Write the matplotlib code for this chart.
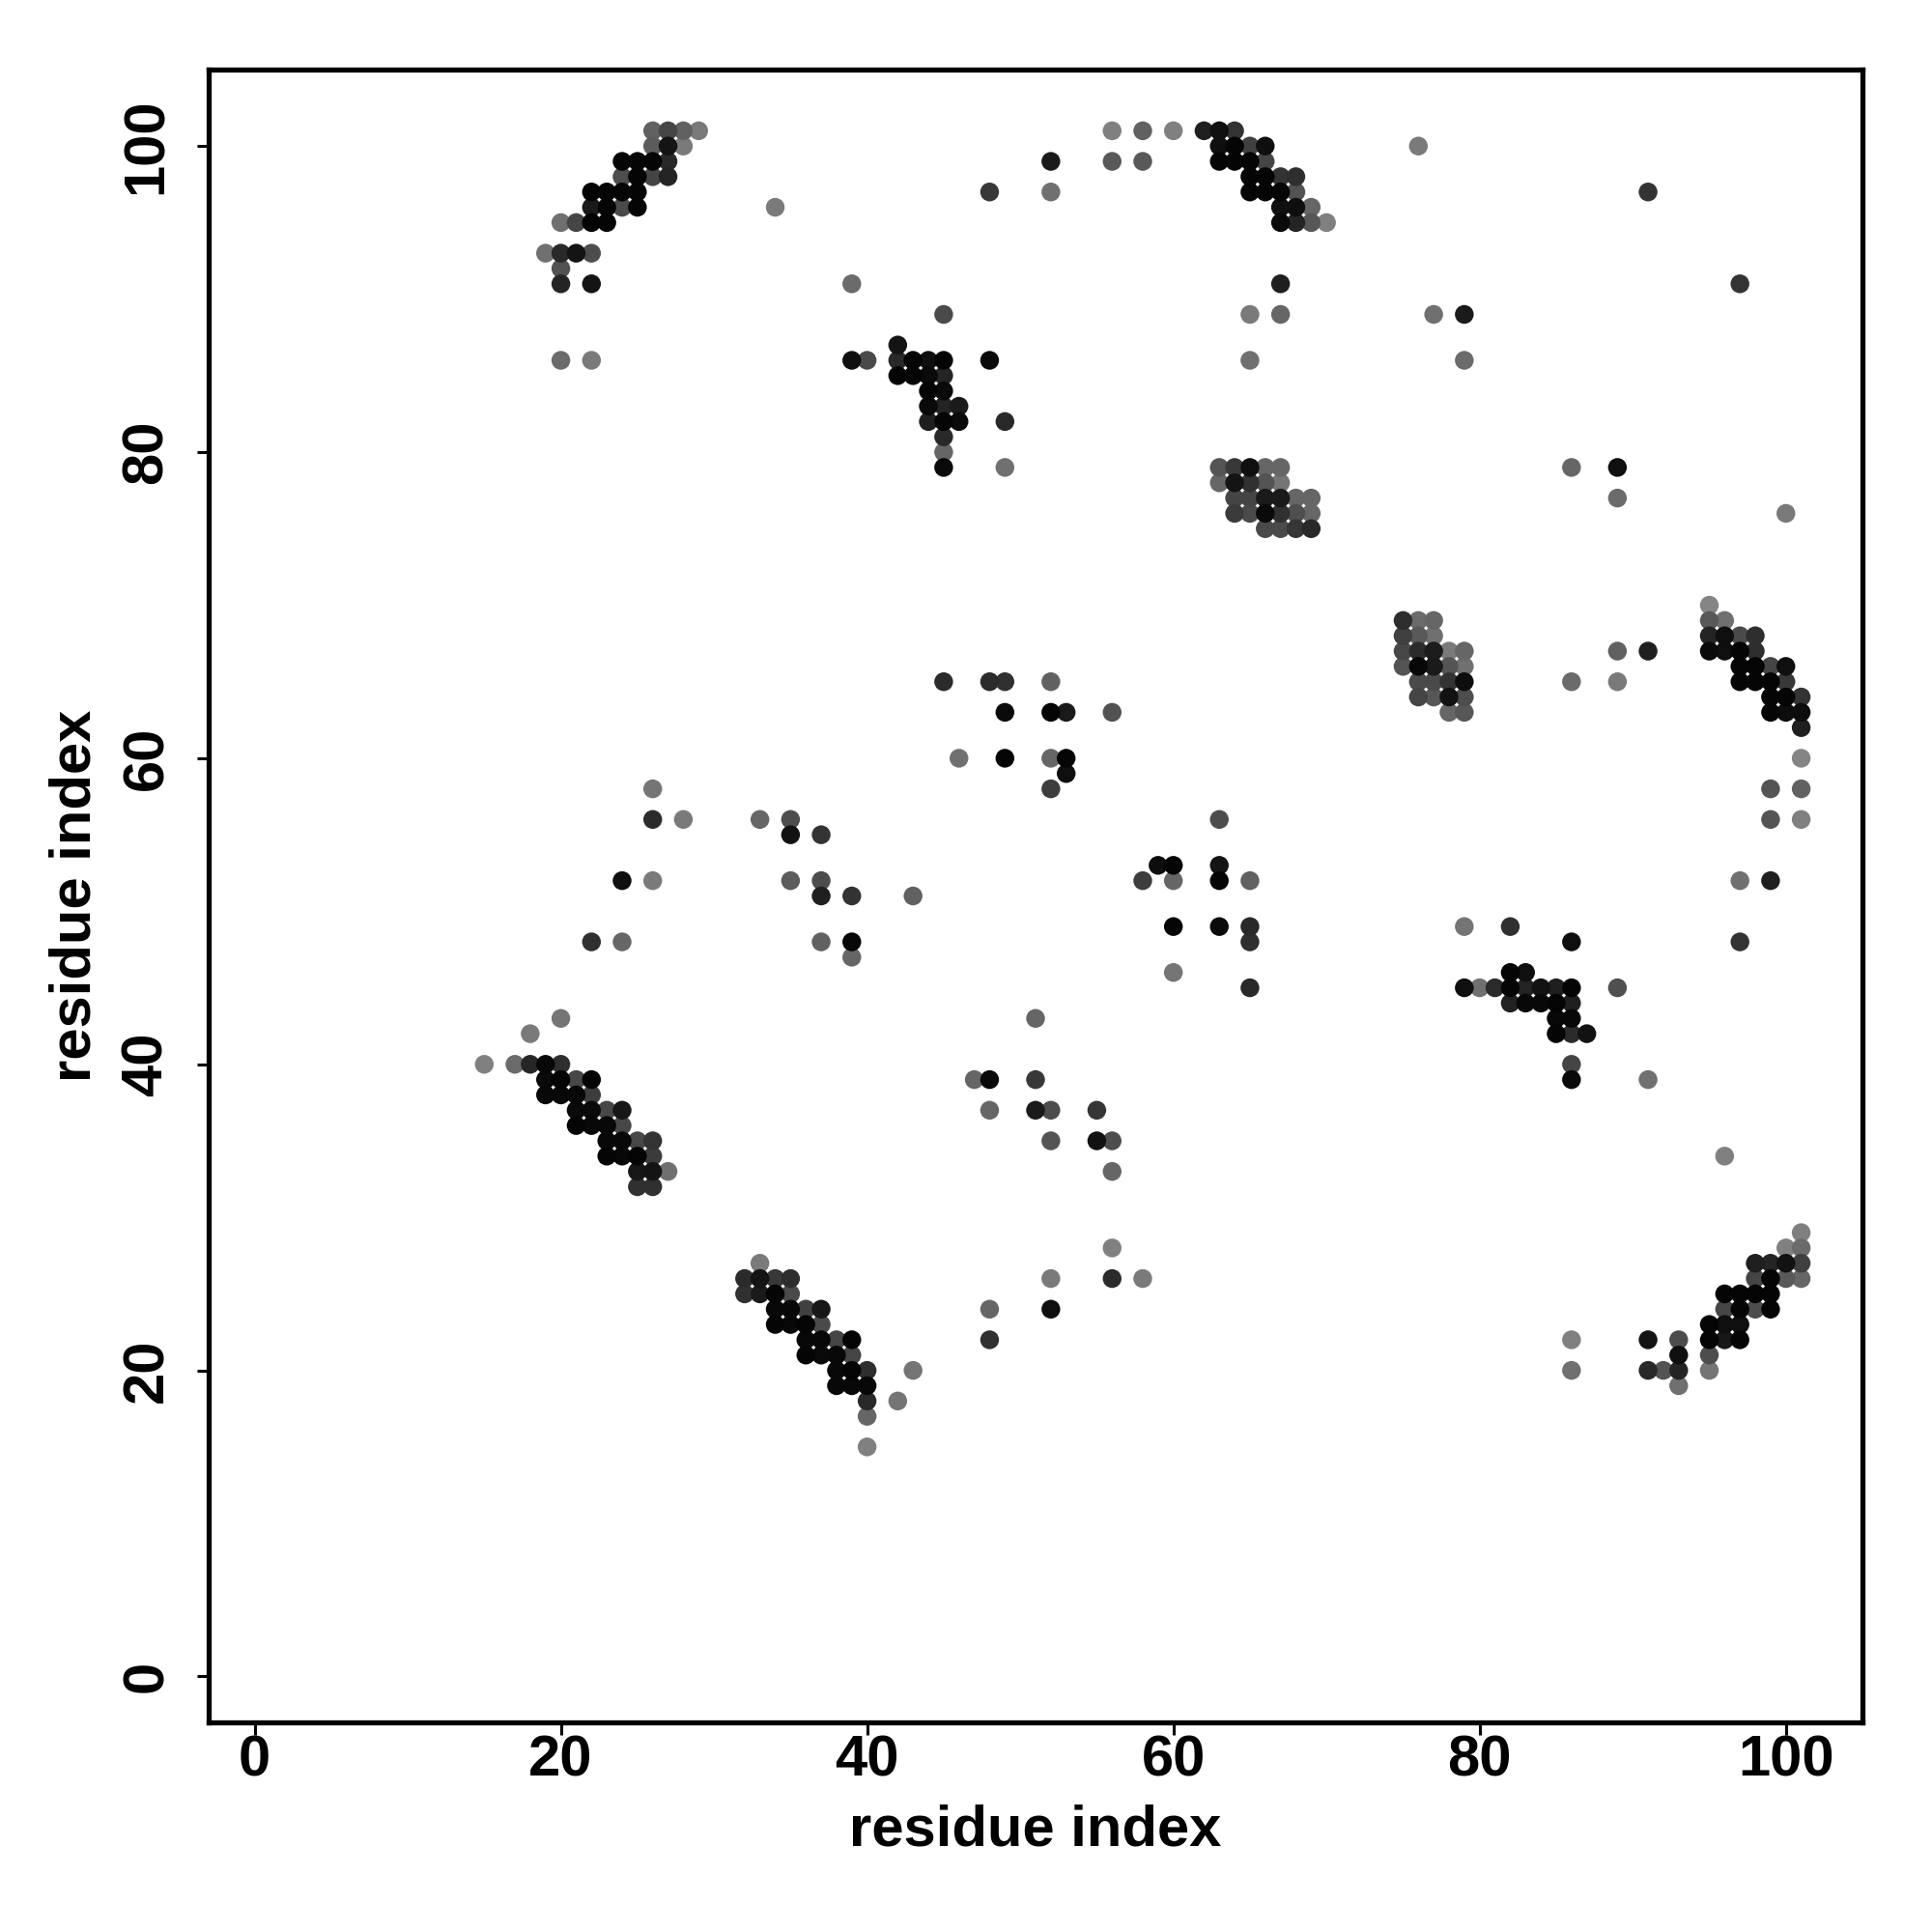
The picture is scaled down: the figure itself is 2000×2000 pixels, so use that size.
import matplotlib
matplotlib.use("Agg")
import matplotlib.pyplot as plt


# contact map: (residue i, residue j, grey level of the dot)
strand_a = [
    (26, 101, .38), (27, 101, .27), (28, 101, .38), (29, 101, .48),
    (26, 100, .36), (27, 100, .08), (28, 100, .48),
    (24, 99, .02), (25, 99, .02), (26, 99, .02), (27, 99, .16),
    (24, 98, .30), (25, 98, .02), (26, 98, .27), (27, 98, .14),
    (22, 97, .02), (23, 97, .02), (24, 97, .02), (25, 97, .02),
    (22, 96, .10), (23, 96, .02), (24, 96, .29), (25, 96, .02),
    (20, 95, .44), (21, 95, .27), (22, 95, .02), (23, 95, .02),
    (19, 93, .44), (20, 93, .16), (21, 93, .08), (22, 93, .30),
    (20, 92, .32), (20, 91, .14), (22, 91, .08),
    (20, 86, .42), (22, 86, .48), (34, 96, .48), (39, 91, .42),
]

strand_b = [
    (45, 89, .29), (42, 87, .08),
    (39, 86, .06), (40, 86, .29), (42, 86, .16), (43, 86, .02), (44, 86, .06),
    (45, 86, .02), (48, 86, .04),
    (42, 85, .02), (43, 85, .02), (44, 85, .04), (45, 85, .14),
    (44, 84, .02), (45, 84, .04),
    (44, 83, .04), (45, 83, .14), (46, 83, .10),
    (44, 82, .12), (45, 82, .02), (46, 82, .04), (49, 82, .16),
    (45, 81, .16), (45, 80, .40), (45, 79, .04), (49, 79, .44),
]

top_mid = [
    (48, 97, .22), (52, 99, .10), (52, 97, .44), (56, 101, .50),
    (58, 101, .38), (60, 101, .50), (56, 99, .35), (58, 99, .35),
]

strand_c = [
    (62, 101, .12), (63, 101, .06), (64, 101, .20),
    (63, 100, .06), (64, 100, .02), (65, 100, .25), (66, 100, .06),
    (63, 99, .02), (64, 99, .02), (65, 99, .02), (66, 99, .27),
    (65, 98, .02), (66, 98, .02), (67, 98, .20), (68, 98, .18),
    (65, 97, .02), (66, 97, .02), (67, 97, .02), (68, 97, .32),
    (67, 96, .06), (68, 96, .06), (69, 96, .40),
    (67, 95, .04), (68, 95, .14), (69, 95, .34), (70, 95, .50),
    (67, 91, .12), (65, 89, .48), (67, 89, .40), (65, 86, .44),
]

block_d = [
    (63, 79, .33), (64, 79, .22), (65, 79, .06), (66, 79, .40), (67, 79, .40),
    (63, 78, .40), (64, 78, .08), (65, 78, .19), (66, 78, .33), (67, 78, .46),
    (64, 77, .27), (65, 77, .27), (66, 77, .10), (67, 77, .10), (68, 77, .40), (69, 77, .40),
    (64, 76, .23), (65, 76, .29), (66, 76, .04), (67, 76, .19), (68, 76, .31), (69, 76, .40),
    (66, 75, .29), (67, 75, .29), (68, 75, .21), (69, 75, .16),
]

top_right = [
    (76, 100, .48), (91, 97, .20), (97, 91, .20), (77, 89, .44), (79, 89, .10),
    (79, 86, .42), (86, 79, .40), (89, 79, .06), (89, 77, .42), (100, 76, .48),
]

mid_left = [
    (26, 58, .46), (26, 56, .17), (28, 56, .48), (33, 56, .40), (35, 56, .30),
    (35, 55, .07), (37, 55, .20),
    (24, 52, .06), (26, 52, .48), (35, 52, .36), (37, 52, .30), (37, 51, .12),
    (39, 51, .20), (43, 51, .38),
    (22, 48, .19), (24, 48, .40), (37, 48, .38), (39, 48, .03), (39, 47, .40),
]

mid = [
    (45, 65, .17), (48, 65, .17), (49, 65, .19), (52, 65, .38),
    (49, 63, .04), (52, 63, .02), (53, 63, .10), (56, 63, .32),
    (46, 60, .44), (49, 60, .02), (52, 60, .40), (53, 60, .02), (53, 59, .06),
    (52, 58, .24), (63, 56, .30),
    (59, 53, .05), (60, 53, .02), (63, 53, .08),
    (58, 52, .24), (60, 52, .40), (63, 52, .02), (65, 52, .38),
    (60, 49, .02), (63, 49, .04), (65, 49, .16), (65, 48, .18),
    (60, 46, .46), (65, 45, .16),
]

block_e = [
    (75, 69, .18), (76, 69, .42), (77, 69, .40),
    (75, 68, .25), (76, 68, .35), (77, 68, .44),
    (75, 67, .28), (76, 67, .17), (77, 67, .11), (78, 67, .48), (79, 67, .40),
    (75, 66, .33), (76, 66, .03), (77, 66, .10), (78, 66, .33), (79, 66, .44),
    (76, 65, .29), (77, 65, .29), (78, 65, .20), (79, 65, .05),
    (76, 64, .27), (77, 64, .34), (78, 64, .07), (79, 64, .30),
    (78, 63, .40), (79, 63, .34),
    (89, 67, .38), (91, 67, .12), (86, 65, .42), (89, 65, .48),
]

strand_f = [
    (95, 70, .52), (95, 69, .35), (96, 69, .44),
    (95, 68, .14), (96, 68, .06), (97, 68, .29), (98, 68, .18),
    (95, 67, .04), (96, 67, .06), (97, 67, .02), (98, 67, .18),
    (97, 66, .02), (98, 66, .02), (99, 66, .27), (100, 66, .06),
    (97, 65, .02), (98, 65, .02), (99, 65, .02), (100, 65, .22),
    (99, 64, .02), (100, 64, .02), (101, 64, .20),
    (99, 63, .02), (100, 63, .05), (101, 63, .05), (101, 62, .12),
    (101, 60, .52), (99, 58, .33), (101, 58, .38), (99, 56, .33), (101, 56, .50),
    (97, 52, .44), (99, 52, .12), (97, 48, .20),
]

strand_g = [
    (79, 49, .46), (82, 49, .19), (86, 48, .06), (82, 46, .02), (83, 46, .06),
    (79, 45, .06), (80, 45, .44), (81, 45, .17), (82, 45, .02), (83, 45, .14),
    (84, 45, .07), (85, 45, .12), (86, 45, .02), (89, 45, .31),
    (82, 44, .13), (83, 44, .03), (84, 44, .03), (85, 44, .02), (86, 44, .12),
    (85, 43, .03), (86, 43, .03),
    (85, 42, .02), (86, 42, .17), (87, 42, .07),
    (86, 40, .27), (86, 39, .04), (91, 39, .44), (96, 34, .50),
]

strand_h = [
    (20, 43, .46), (18, 42, .48),
    (15, 40, .50), (17, 40, .42), (18, 40, .15), (19, 40, .03), (20, 40, .18),
    (19, 39, .04), (20, 39, .02), (21, 39, .28), (22, 39, .02),
    (19, 38, .03), (20, 38, .03), (21, 38, .03), (22, 38, .24),
    (21, 37, .04), (22, 37, .04), (23, 37, .28), (24, 37, .09),
    (21, 36, .02), (22, 36, .03), (23, 36, .03), (24, 36, .28),
    (23, 35, .03), (24, 35, .03), (25, 35, .28), (26, 35, .20),
    (23, 34, .02), (24, 34, .03), (25, 34, .02), (26, 34, .23),
    (25, 33, .09), (26, 33, .08), (27, 33, .44),
    (25, 32, .19), (26, 32, .19),
]

strand_i = [
    (33, 27, .48),
    (32, 26, .17), (33, 26, .08), (34, 26, .22), (35, 26, .18),
    (32, 25, .19), (33, 25, .10), (34, 25, .02), (35, 25, .29),
    (34, 24, .03), (35, 24, .03), (36, 24, .25), (37, 24, .09),
    (34, 23, .02), (35, 23, .03), (36, 23, .02), (37, 23, .29),
    (36, 22, .03), (37, 22, .03), (38, 22, .27), (39, 22, .02),
    (36, 21, .02), (37, 21, .04), (38, 21, .03), (39, 21, .27),
    (38, 20, .03), (39, 20, .02), (40, 20, .18), (43, 20, .46),
    (38, 19, .03), (39, 19, .03), (40, 19, .03),
    (40, 18, .16), (42, 18, .46), (40, 17, .40), (40, 15, .50),
]

mid_low = [
    (51, 43, .40), (47, 39, .40), (48, 39, .04), (51, 39, .22), (48, 37, .40),
    (51, 37, .10), (52, 37, .30), (55, 37, .21),
    (52, 35, .33), (55, 35, .07), (56, 35, .30), (56, 33, .40),
    (56, 28, .50), (52, 26, .48), (56, 26, .17), (58, 26, .48),
    (48, 24, .40), (52, 24, .06), (48, 22, .19),
]

strand_j = [
    (101, 29, .50), (100, 28, .50), (101, 28, .42),
    (98, 27, .12), (99, 27, .14), (100, 27, .07), (101, 27, .25),
    (98, 26, .27), (99, 26, .02), (100, 26, .35), (101, 26, .40),
    (96, 25, .02), (97, 25, .02), (98, 25, .02), (99, 25, .02),
    (96, 24, .27), (97, 24, .02), (98, 24, .30), (99, 24, .02),
    (95, 23, .02), (96, 23, .06), (97, 23, .06),
    (86, 22, .50), (91, 22, .08), (93, 22, .30), (95, 22, .02), (96, 22, .09), (97, 22, .02),
    (93, 21, .06), (95, 21, .30),
    (86, 20, .44), (91, 20, .16), (92, 20, .33), (93, 20, .14), (95, 20, .46),
    (93, 19, .44),
]

ticks = [0, 20, 40, 60, 80, 100]

contacts = (strand_a + strand_b + top_mid + strand_c + block_d + top_right + mid_left
            + mid + block_e + strand_f + strand_g + strand_h + strand_i + mid_low + strand_j)
# light dots first so the strong contacts sit on top
contacts.sort(key=lambda c: -c[2])
xs = [c[0] for c in contacts]
ys = [c[1] for c in contacts]
cols = [(c[2], c[2], c[2]) for c in contacts]

plt.rcParams["font.family"] = ["Liberation Sans", "DejaVu Sans"]
plt.rcParams["font.weight"] = "bold"

fig = plt.figure(figsize=(10, 10), dpi=200)
ax = fig.add_axes([0.108, 0.1085, 0.856, 0.8555])
ax.scatter(xs, ys, s=49, c=cols, linewidths=0)

ax.set_xlim(-3, 105)
ax.set_ylim(-3, 105)
ax.set_xticks(ticks)
ax.set_yticks(ticks)
for sp in ax.spines.values():
    sp.set_linewidth(1.9)
ax.tick_params(length=4.5, width=1.1, labelsize=21.5)
ax.tick_params(axis="x", pad=0)
ax.tick_params(axis="y", pad=8.5, labelrotation=90)
for lab in ax.get_yticklabels():
    lab.set_va("center")

ax.set_xlabel("residue index", fontsize=21.5, fontweight="bold", labelpad=6)
ax.set_ylabel("residue index", fontsize=21.5, fontweight="bold", labelpad=7)

fig.savefig("out.png", dpi=200, facecolor="white")
